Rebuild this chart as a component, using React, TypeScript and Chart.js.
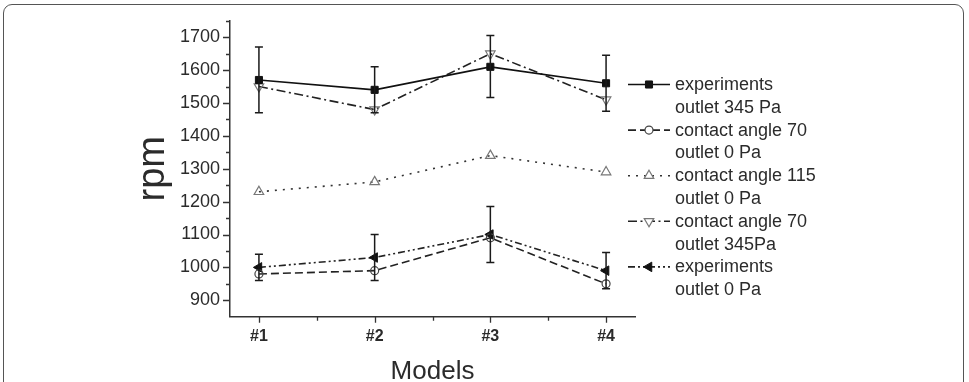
import React, { useEffect, useRef } from 'react';
import { Chart, registerables } from 'chart.js';
import { drawPoint } from 'chart.js/helpers';

Chart.register(...registerables);

// Model categories along the x axis
const categories = ['#1', '#2', '#3', '#4'];
const modelPositions = [1, 2, 3, 4];

// Rotation speed (rpm) per model
const expOutlet345 = [1570, 1540, 1610, 1560];
const expOutlet345Low = [1470, 1470, 1517, 1475];
const expOutlet345High = [1670, 1610, 1705, 1645];
const angle70Outlet0 = [980, 990, 1090, 950];
const angle115Outlet0 = [1230, 1260, 1340, 1290];
const angle70Outlet345 = [1550, 1480, 1650, 1510];
const expOutlet0 = [1000, 1030, 1100, 990];
const expOutlet0Low = [960, 960, 1015, 935];
const expOutlet0High = [1040, 1100, 1185, 1045];

// Two-line legend captions, one per series
const seriesLabels = [
  ['experiments', 'outlet 345 Pa'],
  ['contact angle 70', 'outlet 0 Pa'],
  ['contact angle 115', 'outlet 0 Pa'],
  ['contact angle 70', 'outlet 345Pa'],
  ['experiments', 'outlet 0 Pa'],
];

// Axis ranges and tick marks
const yMin = 850;
const yMax = 1750;
const xMin = 0.75;
const xMax = 4.25;
const yMajorTicks = [900, 1000, 1100, 1200, 1300, 1400, 1500, 1600, 1700];
const yMinorTicks = [950, 1050, 1150, 1250, 1350, 1450, 1550, 1650, 1750];
const xMinorTicks = [1.5, 2.5, 3.5];

const FONT = "'Liberation Sans', Arial, sans-serif";
const INK = '#2b2b2b';

const toPoints = (vals: number[]) => vals.map((v, i) => ({ x: modelPositions[i], y: v }));

const errorBars = [
  { dataset: 0, low: expOutlet345Low, high: expOutlet345High },
  { dataset: 4, low: expOutlet0Low, high: expOutlet0High },
];

// Vertical error bars with caps, placed through the chart scales
const errorBarPlugin = {
  id: 'errorBars',
  afterDatasetsDraw(chart: any) {
    const { ctx, scales } = chart;
    const { x, y } = scales;
    ctx.save();
    ctx.strokeStyle = '#1a1a1a';
    ctx.lineWidth = 1.5;
    errorBars.forEach((eb) => {
      modelPositions.forEach((pos, i) => {
        const px = x.getPixelForValue(pos);
        const top = y.getPixelForValue(eb.high[i]);
        const bot = y.getPixelForValue(eb.low[i]);
        ctx.beginPath();
        ctx.moveTo(px, top);
        ctx.lineTo(px, bot);
        ctx.moveTo(px - 4, top);
        ctx.lineTo(px + 4, top);
        ctx.moveTo(px - 4, bot);
        ctx.lineTo(px + 4, bot);
        ctx.stroke();
      });
    });
    ctx.restore();
  },
};

// Outward major and minor tick marks on both axes
const axisTickPlugin = {
  id: 'axisTicks',
  afterDraw(chart: any) {
    const { ctx, scales, chartArea } = chart;
    const { x, y } = scales;
    ctx.save();
    ctx.strokeStyle = '#333';
    ctx.lineWidth = 1.3;
    ctx.beginPath();
    yMajorTicks.forEach((v) => {
      const py = Math.round(y.getPixelForValue(v)) + 0.5;
      ctx.moveTo(chartArea.left, py);
      ctx.lineTo(chartArea.left - 7, py);
    });
    yMinorTicks.forEach((v) => {
      const py = Math.round(y.getPixelForValue(v)) + 0.5;
      ctx.moveTo(chartArea.left, py);
      ctx.lineTo(chartArea.left - 4, py);
    });
    modelPositions.forEach((v) => {
      const px = Math.round(x.getPixelForValue(v)) + 0.5;
      ctx.moveTo(px, chartArea.bottom);
      ctx.lineTo(px, chartArea.bottom + 6);
    });
    xMinorTicks.forEach((v) => {
      const px = Math.round(x.getPixelForValue(v)) + 0.5;
      ctx.moveTo(px, chartArea.bottom);
      ctx.lineTo(px, chartArea.bottom + 4);
    });
    ctx.stroke();
    ctx.restore();
  },
};

// Legend at the right: line sample with marker and a two-line caption
const sideLegendPlugin = {
  id: 'sideLegend',
  afterDraw(chart: any) {
    const { ctx } = chart;
    const x0 = 628;
    const x1 = 670;
    const textX = 675;
    const firstBaseline = 90;
    const itemStep = 45.6;
    const lineStep = 22.8;
    ctx.save();
    chart.data.datasets.forEach((ds: any, i: number) => {
      const base = firstBaseline + i * itemStep;
      const ly = base - 5.5;
      ctx.strokeStyle = ds.borderColor;
      ctx.lineWidth = ds.borderWidth;
      ctx.setLineDash(ds.borderDash || []);
      ctx.beginPath();
      ctx.moveTo(x0, ly);
      ctx.lineTo(x1, ly);
      ctx.stroke();
      ctx.setLineDash([]);
      ctx.fillStyle = ds.pointBackgroundColor === 'transparent' ? '#fff' : ds.pointBackgroundColor;
      ctx.strokeStyle = ds.pointBorderColor;
      ctx.lineWidth = ds.pointBorderWidth;
      drawPoint(ctx, {
        pointStyle: ds.pointStyle,
        rotation: ds.pointRotation || 0,
        radius: ds.pointRadius,
        borderWidth: ds.pointBorderWidth,
      } as any, (x0 + x1) / 2, ly);
      ctx.fillStyle = INK;
      ctx.font = `18px ${FONT}`;
      ctx.textBaseline = 'alphabetic';
      ctx.textAlign = 'left';
      seriesLabels[i].forEach((t, k) => ctx.fillText(t, textX, base + k * lineStep));
    });
    ctx.restore();
  },
};

export default function App() {
  const ref = useRef<HTMLCanvasElement>(null);

  useEffect(() => {
    const canvas = ref.current;
    if (!canvas) return;
    const chart = new Chart(canvas, {
      type: 'line',
      data: {
        datasets: [
          {
            label: seriesLabels[0].join(' '),
            data: toPoints(expOutlet345),
            borderColor: '#111',
            borderWidth: 1.7,
            pointStyle: 'rect',
            pointRadius: 5,
            pointBackgroundColor: '#111',
            pointBorderColor: '#111',
            pointBorderWidth: 1,
          },
          {
            label: seriesLabels[1].join(' '),
            data: toPoints(angle70Outlet0),
            borderColor: '#222',
            borderWidth: 1.6,
            borderDash: [8, 4],
            pointStyle: 'circle',
            pointRadius: 4,
            pointBackgroundColor: 'transparent',
            pointBorderColor: '#444',
            pointBorderWidth: 1.2,
          },
          {
            label: seriesLabels[2].join(' '),
            data: toPoints(angle115Outlet0),
            borderColor: '#333',
            borderWidth: 1.6,
            borderDash: [2, 6],
            pointStyle: 'triangle',
            pointRadius: 5.5,
            pointBackgroundColor: 'transparent',
            pointBorderColor: '#777',
            pointBorderWidth: 1.2,
          },
          {
            label: seriesLabels[3].join(' '),
            data: toPoints(angle70Outlet345),
            borderColor: '#222',
            borderWidth: 1.6,
            borderDash: [9, 3.5, 2, 3.5],
            pointStyle: 'triangle',
            pointRotation: 180,
            pointRadius: 5.5,
            pointBackgroundColor: 'transparent',
            pointBorderColor: '#777',
            pointBorderWidth: 1.2,
          },
          {
            label: seriesLabels[4].join(' '),
            data: toPoints(expOutlet0),
            borderColor: '#222',
            borderWidth: 1.6,
            borderDash: [7, 3, 2, 3, 2, 3],
            pointStyle: 'triangle',
            pointRotation: 270,
            pointRadius: 5.5,
            pointBackgroundColor: '#111',
            pointBorderColor: '#111',
            pointBorderWidth: 1,
          },
        ],
      },
      options: {
        responsive: false,
        devicePixelRatio: 1,
        animation: false,
        layout: { padding: { left: 127, right: 334, top: 19, bottom: 9 } },
        plugins: {
          legend: { display: false },
          tooltip: { enabled: false },
        },
        elements: { line: { tension: 0 } },
        scales: {
          x: {
            type: 'linear',
            min: xMin,
            max: xMax,
            afterBuildTicks: (s: any) => {
              s.ticks = modelPositions.map((v) => ({ value: v }));
            },
            afterFit: (s: any) => {
              s.height = 74.3;
            },
            grid: { display: false, drawTicks: false },
            border: { display: true, color: '#333', width: 1.5 },
            ticks: {
              autoSkip: false,
              maxRotation: 0,
              padding: 10,
              color: INK,
              font: { family: FONT, size: 16, weight: 'bold' },
              callback: (v: any) => {
                const idx = modelPositions.indexOf(Number(v));
                return idx >= 0 ? categories[idx] : '';
              },
            },
            title: {
              display: true,
              text: 'Models',
              color: INK,
              font: { family: FONT, size: 26 },
              padding: { top: 4, bottom: 4 },
            },
          },
          y: {
            min: yMin,
            max: yMax,
            afterBuildTicks: (s: any) => {
              s.ticks = yMajorTicks.map((v) => ({ value: v }));
            },
            afterFit: (s: any) => {
              s.width = 103;
            },
            grid: { display: false, drawTicks: false },
            border: { display: true, color: '#333', width: 1.5 },
            ticks: {
              autoSkip: false,
              padding: 10,
              color: INK,
              font: { family: FONT, size: 18 },
              callback: (v: any) => String(v),
            },
            title: {
              display: true,
              text: 'rpm',
              color: INK,
              font: { family: FONT, size: 38 },
              padding: { top: 4, bottom: 4 },
            },
          },
        },
      },
      plugins: [errorBarPlugin, axisTickPlugin, sideLegendPlugin],
    } as any);
    return () => chart.destroy();
  }, []);

  return (
    <div
      style={{
        position: 'fixed',
        left: 0,
        top: 0,
        width: 969,
        height: 382,
        overflow: 'hidden',
        background: '#fff',
      }}
    >
      <canvas
        ref={ref}
        width={969}
        height={400}
        style={{ position: 'absolute', left: 0, top: 0, width: 969, height: 400, display: 'block' }}
      />
      <div
        style={{
          position: 'absolute',
          left: 3,
          top: 4,
          width: 959,
          height: 500,
          border: '1.5px solid #555',
          borderRadius: 9,
          pointerEvents: 'none',
        }}
      />
    </div>
  );
}
